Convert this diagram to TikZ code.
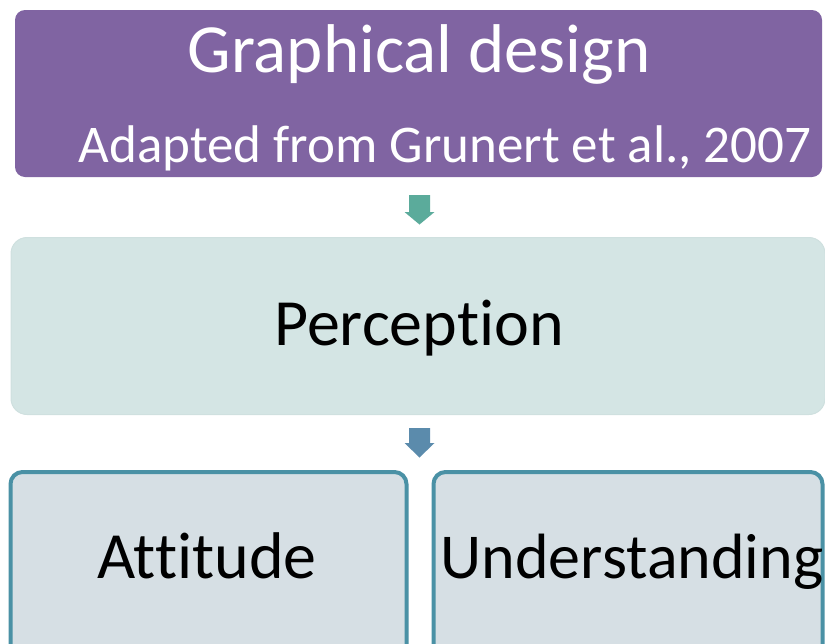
\documentclass[tikz,border=0pt]{standalone}
\usepackage{fontspec}
\setmainfont{Carlito}[Ligatures=NoCommon]
\definecolor{purp}{HTML}{8064A2}
\definecolor{percfill}{HTML}{D4E5E4}
\definecolor{percline}{HTML}{CFE0DF}
\definecolor{arrA}{HTML}{5BAB9B}
\definecolor{arrB}{HTML}{5B8BAC}
\definecolor{botline}{HTML}{4A91A5}
\definecolor{botfill}{HTML}{D6DFE4}
\tikzset{
  boxbase/.style={rectangle, inner sep=0pt, outer sep=0pt},
  purpbox/.style={boxbase, fill=purp, rounded corners=10pt},
  percbox/.style={boxbase, fill=percfill, draw=percline, line width=1pt, rounded corners=16pt},
  botbox/.style={boxbase, fill=botfill, draw=botline, line width=4pt, rounded corners=12pt},
  txt/.style={inner sep=0pt, anchor=base},
}
\begin{document}
\begin{tikzpicture}[x=1pt,y=-1pt]
\useasboundingbox (0,0) rectangle (825,643);
\clip (0,0) rectangle (825,643);
% top box
\node[purpbox, minimum width=807pt, minimum height=167pt] (top) at (418.5,93.5) {};
\node[txt, text=white, font=\fontsize{69}{69}\selectfont] (title) at (419,72) {Graphical design};
\node[txt, text=white, font=\fontsize{53}{53}\selectfont] (sub) at (445,162) {Adapted from Grunert et al., 2007};
% arrow 1
\fill[arrA] (409,195) -- (430,195) -- (430,212) -- (434.5,212) -- (419.5,224.5) -- (404.5,212) -- (409,212) -- cycle;
% perception box
\node[percbox, minimum width=814pt, minimum height=177pt] (perc) at (418,326) {};
\node[txt, font=\fontsize{66}{66}\selectfont] (perct) at (419,345) {Perception};
% arrow 2
\fill[arrB] (409,428) -- (430,428) -- (430,443) -- (434.5,443) -- (419.5,457.5) -- (404.5,443) -- (409,443) -- cycle;
% bottom boxes
\node[botbox, minimum width=396pt, minimum height=210pt] (att) at (208.5,577) {};
\node[txt, font=\fontsize{66}{66}\selectfont] (attt) at (207,578) {Attitude};
\node[botbox, minimum width=389pt, minimum height=210pt] (und) at (628,577) {};
\node[txt, font=\fontsize{64}{64}\selectfont] (undt) at (632,578) {Understanding};
\end{tikzpicture}
\end{document}
